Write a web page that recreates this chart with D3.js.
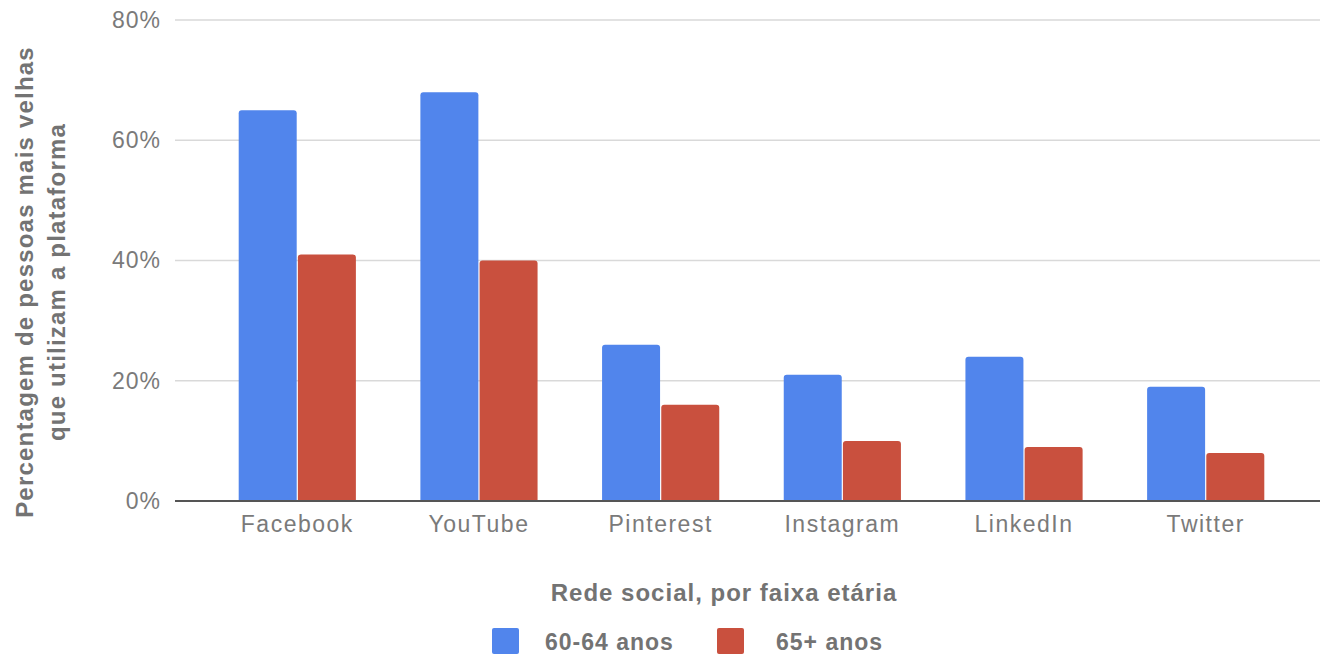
<!DOCTYPE html>
<html>
<head>
<meta charset="utf-8">
<script src="https://cdn.jsdelivr.net/npm/d3@7"></script>
<style>
  body { margin: 0; background: #fff; }
  text { font-family: "Liberation Sans", Arial, sans-serif; }
</style>
</head>
<body>
<div id="chart"></div>
<script>
// data
var categories = ["Facebook", "YouTube", "Pinterest", "Instagram", "LinkedIn", "Twitter"];
var seriesNames = ["60-64 anos", "65+ anos"];
var values6064 = [65, 68, 26, 21, 24, 19];
var values65 = [41, 40, 16, 10, 9, 8];
var yTicks = [0, 20, 40, 60, 80];
var colors = ["#5185ec", "#c9503e"];

var svgWidth = 1320, svgHeight = 656;

var svg = d3.select("#chart").append("svg")
  .attr("width", svgWidth)
  .attr("height", svgHeight);

var y = d3.scaleLinear().domain([0, 80]).range([501, 20]);

var x0 = d3.scaleBand()
  .domain(categories)
  .range([206, 1297])
  .paddingInner(0.355)
  .paddingOuter(0.18);

var x1 = d3.scaleBand()
  .domain(seriesNames)
  .range([0, x0.bandwidth()])
  .paddingInner(0.02);

// gridlines
svg.append("g")
  .selectAll("line")
  .data(yTicks.filter(d => d > 0))
  .enter()
  .append("line")
  .attr("x1", 175)
  .attr("x2", 1320)
  .attr("y1", d => y(d))
  .attr("y2", d => y(d))
  .attr("stroke", "#d9d9d9")
  .attr("stroke-width", 1.5);

// y tick labels
var yAxis = d3.axisLeft(y).tickValues(yTicks).tickFormat(d => d + "%").tickSize(0).tickPadding(0);
var yG = svg.append("g")
  .attr("transform", "translate(161,0)")
  .call(yAxis);
yG.select(".domain").remove();
yG.selectAll("text")
  .attr("fill", "#7a7a7a")
  .style("font-family", "'Liberation Sans', Arial, sans-serif")
  .style("letter-spacing", "1px")
  .style("font-size", "23px");

// bars
var data = categories.map(function(c, i) {
  return { cat: c, vals: [values6064[i], values65[i]] };
});

var groups = svg.append("g")
  .selectAll("g")
  .data(data)
  .enter()
  .append("g")
  .attr("transform", d => `translate(${x0(d.cat)},0)`);

groups.selectAll("path")
  .data(d => d.vals.map((v, j) => ({ name: seriesNames[j], v: v, j: j })))
  .enter()
  .append("path")
  .attr("fill", d => colors[d.j])
  .attr("d", function(d) {
    var bx = x1(d.name), bw = x1.bandwidth(), top = y(d.v), bot = y(0), r = 3;
    return `M${bx},${bot} L${bx},${top + r} Q${bx},${top} ${bx + r},${top} ` +
      `L${bx + bw - r},${top} Q${bx + bw},${top} ${bx + bw},${top + r} L${bx + bw},${bot} Z`;
  });

// baseline
svg.append("line")
  .attr("x1", 175)
  .attr("x2", 1320)
  .attr("y1", y(0))
  .attr("y2", y(0))
  .attr("stroke", "#555")
  .attr("stroke-width", 2);

// x labels
var xAxis = d3.axisBottom(x0).tickSize(0).tickPadding(0);
var xG = svg.append("g")
  .attr("transform", `translate(0,${y(0) + 15})`)
  .call(xAxis);
xG.select(".domain").remove();
xG.selectAll("text")
  .attr("fill", "#7a7a7a")
  .attr("dy", "0.71em")
  .style("font-family", "'Liberation Sans', Arial, sans-serif")
  .style("letter-spacing", "1.5px")
  .style("font-size", "23px");

// axis titles
var yTitle = svg.append("text")
  .attr("transform", "translate(0,282) rotate(-90)")
  .attr("text-anchor", "middle")
  .attr("fill", "#737373")
  .style("font-weight", "bold")
  .style("letter-spacing", "1.2px")
  .style("font-size", "24px");
yTitle.append("tspan").attr("x", 0).attr("y", 33).text("Percentagem de pessoas mais velhas");
yTitle.append("tspan").attr("x", 0).attr("y", 65).text("que utilizam a plataforma");

svg.append("text")
  .attr("x", 724)
  .attr("y", 601)
  .attr("text-anchor", "middle")
  .attr("fill", "#737373")
  .style("font-weight", "bold")
  .style("letter-spacing", "1px")
  .style("font-size", "24px")
  .text("Rede social, por faixa etária");

// legend
var legendX = [492, 717];
var legendTextX = [545, 776];
var legend = svg.append("g")
  .selectAll("g")
  .data(seriesNames)
  .enter()
  .append("g");

legend.append("rect")
  .attr("x", (d, i) => legendX[i])
  .attr("y", 628)
  .attr("width", 27)
  .attr("height", 26)
  .attr("rx", 2)
  .attr("fill", (d, i) => colors[i]);

legend.append("text")
  .attr("x", (d, i) => legendTextX[i])
  .attr("y", 650)
  .attr("fill", "#737373")
  .style("font-weight", "bold")
  .style("letter-spacing", "1px")
  .style("font-size", "23px")
  .text(d => d);
</script>
</body>
</html>
